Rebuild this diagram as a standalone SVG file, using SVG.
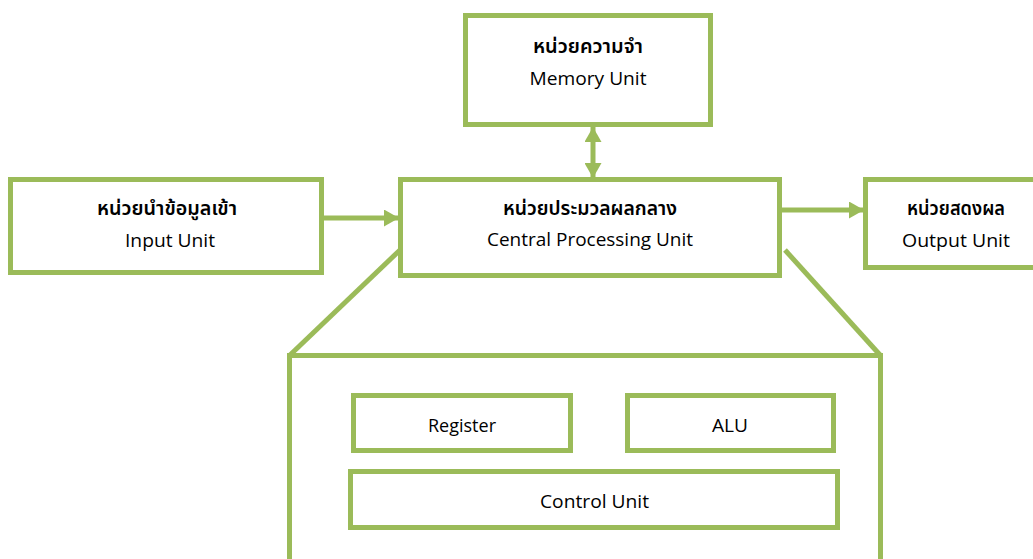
<svg xmlns="http://www.w3.org/2000/svg" width="1033" height="559" viewBox="0 0 1033 559">
  <style>
    .box { fill: #ffffff; stroke: #9BBB59; stroke-width: 5; }
    .ln { fill: none; stroke: #9BBB59; stroke-width: 5; }
    .th { font-family: "Noto Sans Thai", "Noto Sans", "DejaVu Sans", sans-serif; font-size: 19.5px; font-weight: 600; fill: #000; text-anchor: middle; }
    .en { font-family: "Open Sans", "Noto Sans", sans-serif; font-size: 18.5px; fill: #000; text-anchor: middle; }
  </style>
  <defs>
    <marker id="ah" viewBox="0 0 15 17" refX="15" refY="8.5" markerWidth="15" markerHeight="17" markerUnits="userSpaceOnUse" orient="auto-start-reverse">
      <path d="M0,0 L15,8.5 L0,17 z" fill="#9BBB59"/>
    </marker>
  </defs>

  <g id="connectors">
    <line class="ln" x1="593" y1="127" x2="593" y2="178" marker-start="url(#ah)" marker-end="url(#ah)"/>
    <line class="ln" x1="317" y1="218" x2="399" y2="218" marker-end="url(#ah)"/>
    <line class="ln" x1="782" y1="210" x2="864" y2="210" marker-end="url(#ah)"/>
    <line class="ln" x1="400" y1="250" x2="289.5" y2="355.5"/>
    <line class="ln" x1="785" y1="250" x2="880.5" y2="355.5"/>
  </g>

  <g id="cpu-detail">
    <path class="ln" d="M289.5,562 L289.5,355.5 L880.5,355.5 L880.5,562"/>
  </g>

  <g id="memory">
    <rect class="box" x="465.5" y="15.5" width="245" height="109"/>
    <text class="th" x="588" y="53" textLength="110" lengthAdjust="spacingAndGlyphs">หน่วยความจำ</text>
    <text class="en" x="588" y="85" textLength="117" lengthAdjust="spacingAndGlyphs">Memory Unit</text>
  </g>

  <g id="input">
    <rect class="box" x="10.5" y="179.5" width="311" height="93"/>
    <text class="th" x="167" y="215" textLength="140" lengthAdjust="spacingAndGlyphs">หน่วยนำข้อมูลเข้า</text>
    <text class="en" x="170" y="247" textLength="90" lengthAdjust="spacingAndGlyphs">Input Unit</text>
  </g>

  <g id="cpu">
    <rect class="box" x="400.5" y="179.5" width="379" height="96"/>
    <text class="th" x="590" y="215" textLength="174" lengthAdjust="spacingAndGlyphs">หน่วยประมวลผลกลาง</text>
    <text class="en" x="590" y="246" textLength="206" lengthAdjust="spacingAndGlyphs">Central Processing Unit</text>
  </g>

  <g id="output">
    <rect class="box" x="865.5" y="179.5" width="180" height="88"/>
    <text class="th" x="956" y="215" textLength="98" lengthAdjust="spacingAndGlyphs">หน่วยสดงผล</text>
    <text class="en" x="956" y="247" textLength="108" lengthAdjust="spacingAndGlyphs">Output Unit</text>
  </g>

  <g id="register">
    <rect class="box" x="353.5" y="395.5" width="217" height="55"/>
    <text class="en" x="462" y="432" textLength="68" lengthAdjust="spacingAndGlyphs">Register</text>
  </g>

  <g id="alu">
    <rect class="box" x="627.5" y="395.5" width="206" height="55"/>
    <text class="en" x="730" y="432" textLength="36" lengthAdjust="spacingAndGlyphs">ALU</text>
  </g>

  <g id="control">
    <rect class="box" x="350.5" y="471.5" width="487" height="56"/>
    <text class="en" x="594.5" y="508" textLength="109" lengthAdjust="spacingAndGlyphs">Control Unit</text>
  </g>
</svg>
